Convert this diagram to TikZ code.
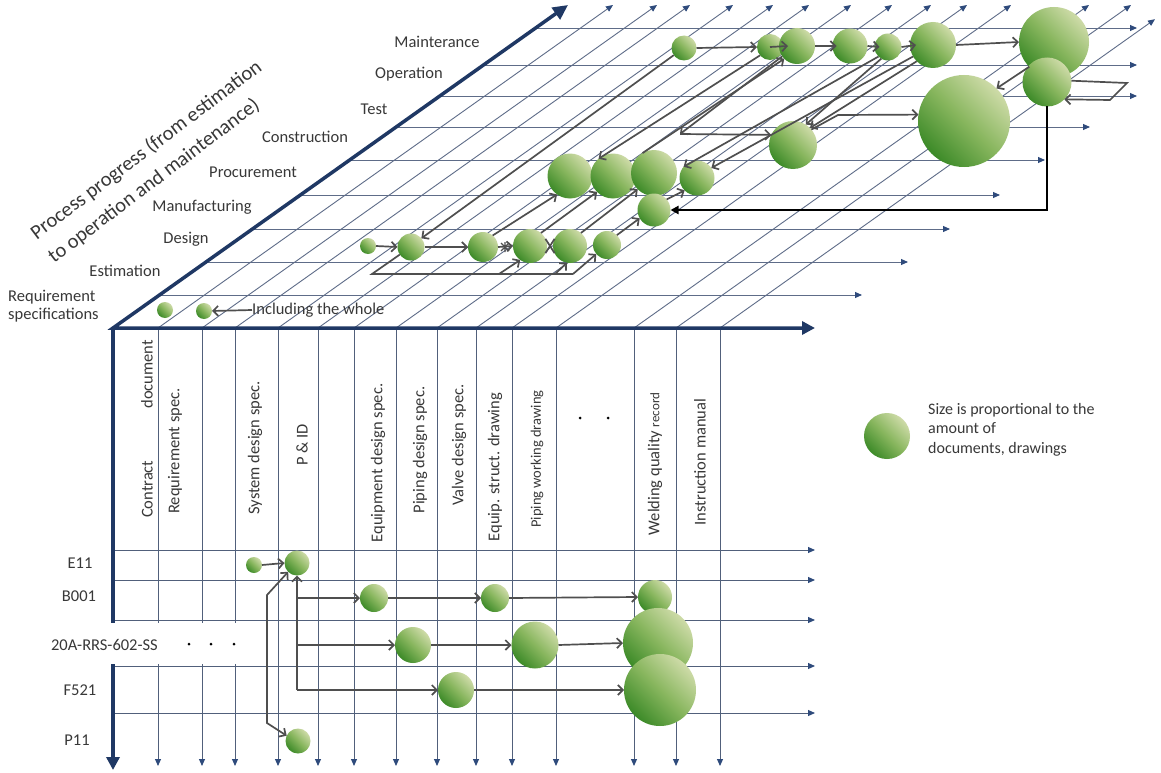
\documentclass[tikz,border=0pt]{standalone}
\usepackage{fontspec}
\setmainfont{Carlito}
\usetikzlibrary{arrows.meta,calc}

\definecolor{navy}{HTML}{1F3864}
\definecolor{gridc}{HTML}{5E6C88}
\definecolor{gridd}{HTML}{51607B}
\definecolor{tipc}{HTML}{2F4B7C}
\definecolor{connc}{HTML}{4F4F4F}
\definecolor{txt}{HTML}{383838}
\definecolor{gdark}{HTML}{3C8A28}
\definecolor{gmid}{HTML}{88B65E}
\definecolor{glight}{HTML}{CEDBA8}

\tikzset{
  gridA/.style={gridc, line width=0.9pt},
  gridB/.style={gridd, line width=1pt},
  gtip/.style={-{Triangle[length=7pt,width=6pt,color=tipc]}},
  axisline/.style={navy, line width=3.5pt},
  axtip/.style={-{Triangle[length=13pt,width=13pt]}},
  bub/.style={circle, inner sep=0pt, outer sep=0pt, shading=axis,
    top color=glight, bottom color=gdark, middle color=gmid, shading angle=-45},
  conn/.style={connc, line width=1.7pt, -{Straight Barb[length=5pt,width=10pt]}},
  plainconn/.style={connc, line width=1.7pt},
  blk/.style={black, line width=2pt, -{Triangle[length=8pt,width=8pt]}},
  lbl/.style={font=\fontsize{16.5}{18}\selectfont, text=txt, inner sep=0pt},
  hdr/.style={lbl, rotate=90},
  dotmark/.style={fill=black, circle, inner sep=0pt, minimum size=3pt}
}

% a shaded document bubble: name, x, y, diameter
\newcommand\gb[4]{\node[bub, minimum size=#4pt] (#1) at (#2,#3) {};}

\begin{document}
\begin{tikzpicture}[x=1pt,y=-1pt]
\fill[white] (0,0) rectangle (1161,773);
\useasboundingbox (0,0) rectangle (1161,773);

% ---- oblique process plane: rows
\foreach \yy/\xe in {295/862,262/908,229/950,195/1000,160/1045,127/1090,96/1137,65/1137,28/1137}
  \draw[gridA, gtip] ({113+(328-\yy)*1.4087},\yy) -- (\xe,\yy);
% ---- oblique process plane: document columns
\foreach \xx in {158,202,235,278,318,354,396,437,476,512,556,634,676}
  \draw[gridA, gtip] (\xx,328) -- ++(455,-323);
\draw[gridA, gtip] (720,328) -- ++(435,-308.8);

% ---- document table: columns and rows
\foreach \xx in {158,202,235,278,318,354,396,437,476,512,556,634,676,720}
  \draw[gridB, gtip] (\xx,328) -- (\xx,766);
\foreach \yy in {550,580,620,666,713}
  \draw[gridB, gtip] (113,\yy) -- (815,\yy);

% ---- main axes
\draw[axisline, {Triangle[length=15pt,width=14pt]}-{Triangle[length=13pt,width=13pt]}]
  (568,5) -- (113,328) -- (815,328);
\draw[axisline, axtip] (113,328) -- (113,770);

% gap for the elided rows
\fill[white] (45,623) rectangle (249,664);

% ---- bubbles on the process plane
\gb{R1}{165}{310}{16}
\gb{R2}{204}{311}{16}
\gb{D1}{368}{246}{16}
\gb{D2}{411}{247}{27}
\gb{D3}{483}{247}{30}
\gb{D4}{530}{246}{34}
\gb{D5}{570}{246}{34}
\gb{D6}{607}{245}{28}
\gb{P1}{570}{176}{45}
\gb{P2}{613}{176}{45}
\gb{P3}{654}{173}{46}
\gb{P4}{697}{178}{35}
\gb{F}{654}{210}{33}
\gb{C}{793}{145}{48}
\gb{T}{964}{121}{92}
\gb{M1}{684}{48}{25}
\gb{M2}{770}{47}{26}
\gb{M3}{797}{46}{36}
\gb{M4}{850}{46}{35}
\gb{M5}{888}{47}{27}
\gb{M6}{933}{45}{46}
\gb{M7}{1054}{42}{70}
\gb{O}{1047}{82}{49}

% ---- bubbles in the document table
\gb{E1}{254}{565}{16}
\gb{E2}{297}{563}{25}
\gb{Q1}{298}{741}{25}
\gb{B1}{374}{598}{28}
\gb{B2}{495}{598}{28}
\gb{B3}{655}{597}{34}
\gb{S1}{413}{645}{36}
\gb{S2}{535}{645}{47}
\gb{S3}{658}{643}{70}
\gb{V1}{456}{690}{36}
\gb{V3}{660}{690}{72}

% legend bubble
\gb{Lg}{887}{436}{46}

% ---- helper points
\coordinate (u1) at (372,274);
\coordinate (u2) at (573,274);
\coordinate (u3) at (499,274);
\coordinate (u4) at (555,274);
\coordinate (ct) at (838,115);
\coordinate (hx) at (680,134);
\coordinate (lp1) at (1127,83);
\coordinate (lp2) at (1110,100);
\coordinate (pk1) at (267,595);
\coordinate (pk2) at (267,723);
\coordinate (st) at (505,247);

% ---- connectors on the process plane
\node[lbl, anchor=west] (inc) at (252,310) {Including the whole};
\draw[conn] (inc.west) -- (R2.east);

\draw[conn] (D1.east) -- (D2.west);
\draw[conn] (D2.east) -- (D3.west);
\draw[conn] (D3.east) -- (D4.west);
\draw[plainconn, line width=1.2pt] ($(st)+(-4,-4)$) -- ($(st)+(4,4)$)
  ($(st)+(-4,4)$) -- ($(st)+(4,-4)$) ($(st)+(0,-5)$) -- ($(st)+(0,5)$);
\draw[plainconn] (D4.25) -- (D5.205);
\draw[plainconn] (D4.-25) -- (D5.155);
\draw[plainconn] (D2.214) -- (u1) -- (u2);
\draw[conn] (u2) -- (D6.220);
\draw[conn] (u3) -- (D4.235);
\draw[conn] (u4) -- (D5.260);

\draw[conn] (D3.50) -- (P1.235);
\draw[conn] (D4.50) -- (P2.225);
\draw[conn] (D5.50) -- (P3.225);
\draw[conn] (D6.45) -- (F.210);
\draw[conn] (F.40) -- (P4.225);

\draw[conn] (M1.east) -- (M2.west);
\draw[conn] (M2.center) -- ($(M3.west)+(9,0)$);
\draw[conn] (M3.east) -- ($(M4.west)+(4,0)$);
\draw[conn] (M4.east) -- ($(M5.west)+(5,0)$);
\draw[conn] (M5.east) -- ($(M6.west)+(6,0)$);
\draw[conn] (M6.east) -- (M7.west);

\draw[conn] (M1.215) -- (D2.40);
\draw[conn] (M2.220) -- (P2.130);
\draw[conn] (P3.120) -- (M3.225);
\draw[conn] (M5.225) -- (P4.140);
\draw[conn] (M6.210) -- (P4.35);
\draw[conn] (M6.225) -- (C.45);
\draw[conn] (M5.240) -- (C.58);
\draw[conn] (M3.215) -- (hx);
\draw[conn] (hx) -- (C.155);
\draw[conn] (C.40) -- (ct) -- (T.172);
\draw[conn] (M7.225) -- (T.45);
\draw[conn] (O.3) -- (lp1) -- (lp2) -- (O.-45);
\draw[blk] (O.south) -- (O.south |- F.east) -- (F.east);

% ---- connectors in the document table
\draw[conn] (E1.east) -- (E2.west);
\draw[conn] (E2.south |- V1.west) -- (E2.south);
\draw[conn] (E2.south |- B1.west) -- (B1.west);
\draw[conn] (E2.south |- S1.west) -- (S1.west);
\draw[conn] (E2.south |- V1.west) -- (V1.west);
\draw[conn] (B1.east) -- (B2.west);
\draw[conn] (B2.east) -- (B3.west);
\draw[conn] (S1.east) -- (S2.west);
\draw[conn] (S2.east) -- (S3.west);
\draw[conn] (V1.east) -- (V3.west);
\draw[conn, {Straight Barb[length=5pt,width=10pt]}-{Straight Barb[length=5pt,width=10pt]}]
  (E2.225) -- (pk1) -- (pk2) -- (Q1.155);

% ---- phase labels
\node[lbl] (lMain) at (437,42) {Mainterance};
\node[lbl] (lOper) at (409,74) {Operation};
\node[lbl] (lTest) at (374,109) {Test};
\node[lbl] (lCons) at (305,137) {Construction};
\node[lbl] (lProc) at (253,172) {Procurement};
\node[lbl] (lManu) at (202,207) {Manufacturing};
\node[lbl] (lDes) at (186,239) {Design};
\node[lbl] (lEst) at (125,271) {Estimation};
\node[lbl, align=left, anchor=west] (lReq) at (8,306) {Requirement\\specifications};
\node[lbl, font=\fontsize{20.5}{29}\selectfont, rotate=37, align=left] (title)
  at (155,162) {Process progress (from estimation\\to operation and maintenance)};

% ---- column headers
\node[hdr] (h1) at (147,429) {Contract\hspace{52pt}document};
\node[hdr] (h2) at (175,451) {Requirement spec.};
\node[hdr] (h3) at (255,448) {System design spec.};
\node[hdr] (h4) at (302,445) {P \& ID};
\node[hdr] (h5) at (378,463) {Equipment design spec.};
\node[hdr] (h6) at (420,450) {Piping design spec.};
\node[hdr] (h7) at (459,445) {Valve design spec.};
\node[hdr] (h8) at (495,467) {Equip. struct. drawing};
\node[hdr, font=\fontsize{14.5}{16}\selectfont] (h9) at (537,459) {Piping working drawing};
\node[hdr] (h10) at (655,464) {Welding quality {\fontsize{13}{15}\selectfont record}};
\node[hdr] (h11) at (700,462) {Instruction manual};
\node[dotmark] (hd1) at (580,418) {};
\node[dotmark] (hd2) at (608,418) {};

% ---- row labels
\node[lbl] (rE) at (80,563) {E11};
\node[lbl] (rB) at (79,596) {B001};
\node[lbl, anchor=east] (rS) at (158,645) {20A-RRS-602-SS};
\node[lbl] (rF) at (80,690) {F521};
\node[lbl] (rP) at (77,740) {P11};
\node[dotmark] (rd1) at (189,644) {};
\node[dotmark] (rd2) at (211,644) {};
\node[dotmark] (rd3) at (234,644) {};

% ---- legend
\node[lbl, font=\fontsize{16}{19.5}\selectfont, align=left, anchor=north west] (lgt)
  at (928,403) {Size is proportional to the\\amount of\\documents, drawings};
\end{tikzpicture}
\end{document}
